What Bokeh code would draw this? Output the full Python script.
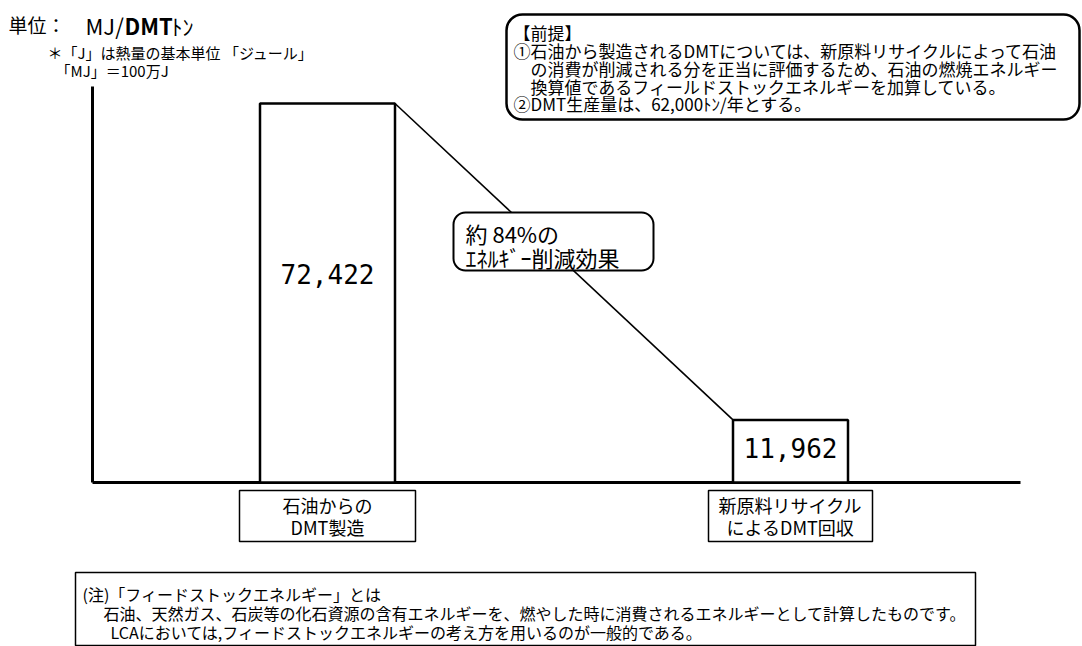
from bokeh.plotting import figure
from bokeh.models import Range1d, Label, BoxAnnotation
from bokeh.embed import file_html
from bokeh.resources import INLINE
from bokeh.core.properties import value

# ---------------- data ----------------
categories = ["石油からのDMT製造", "新原料リサイクルによるDMT回収"]
category_line1 = ["石油からの", "新原料リサイクル"]
category_line2 = ["DMT製造", "によるDMT回収"]
energy_mj_per_t = [72422, 11962]
value_labels = ["72,422", "11,962"]
reduction_lines = ["約 84%の", "ｴﾈﾙｷﾞｰ削減効果"]
unit_parts = ["単位：", "MJ/", "DMT", "ﾄﾝ"]
unit_notes = ["＊「J」は熱量の基本単位 「ジュール」", "「MJ」＝100万J"]
premise_lines = [
    "【前提】",
    "①石油から製造されるDMTについては、新原料リサイクルによって石油",
    "の消費が削減される分を正当に評価するため、石油の燃焼エネルギー",
    "換算値であるフィールドストックエネルギーを加算している。",
    "②DMT生産量は、62,000ﾄﾝ/年とする。",
]
note_lines = [
    "(注)「フィードストックエネルギー」とは",
    "石油、天然ガス、石炭等の化石資源の含有エネルギーを、燃やした時に消費されるエネルギーとして計算したものです。",
    "LCAにおいては,フィードストックエネルギーの考え方を用いるのが一般的である。",
]

# ---------------- layout ----------------
W, H = 1082, 646
JP = "Noto Sans CJK JP"


def Y(py):
    return H - py


BASE_PX, TOP_PX = 482, 103
FIRST_CENTER_PX, UNIT_PX = 327, 463
k = (BASE_PX - TOP_PX) / max(energy_mj_per_t)
idx = list(range(len(categories)))
bar_w = [135 / UNIT_PX, 115 / UNIT_PX]
box_half = [88 / UNIT_PX, 82 / UNIT_PX]

p = figure(
    width=W, height=H,
    x_range=Range1d(-FIRST_CENTER_PX / UNIT_PX, (W - FIRST_CENTER_PX) / UNIT_PX),
    y_range=Range1d(-(H - BASE_PX) / k, BASE_PX / k),
    x_axis_type=None, y_axis_type=None,
    output_backend="svg", toolbar_location=None, min_border=0,
)
p.outline_line_color = None
p.background_fill_color = "white"
p.border_fill_color = "white"
p.extra_x_ranges = {"px": Range1d(0, W)}
p.extra_y_ranges = {"px": Range1d(0, H)}

# axes lines
p.segment(x0=[92], y0=[Y(86)], x1=[92], y1=[Y(BASE_PX)], line_width=3, line_color="black",
          x_range_name="px", y_range_name="px")
p.segment(x0=[92], y0=[0], x1=[1020], y1=[0], line_width=3, line_color="black", x_range_name="px")

# bars
p.vbar(x=idx, top=energy_mj_per_t, bottom=0, width=bar_w, fill_color="white",
       line_color="black", line_width=2.5)

# connector line
p.line(x=[idx[0] + bar_w[0] / 2, idx[1] - bar_w[1] / 2], y=energy_mj_per_t,
       line_color="black", line_width=1.6)

# value labels
p.text(x=idx, y=[v * 0.55 for v in energy_mj_per_t], text=value_labels,
       text_font=value("DejaVu Sans Mono"), text_font_size="26px",
       text_align="center", text_baseline="middle", text_color="black")

# callout box
p.add_layout(BoxAnnotation(left=453, right=653, top=Y(212), bottom=Y(270),
                           x_range_name="px", y_range_name="px",
                           fill_color="white", fill_alpha=1, line_color="black",
                           line_alpha=1, line_width=2, border_radius=12))
for i, t in enumerate(reduction_lines):
    p.add_layout(Label(x=465, y=Y(232 + i * 24), text=t, x_range_name="px", y_range_name="px",
                       text_font=JP, text_font_size="22px", text_baseline="middle",
                       text_color="black"))

# category label boxes + texts
for i in idx:
    p.add_layout(BoxAnnotation(left=i - box_half[i], right=i + box_half[i], top=Y(490), bottom=Y(541),
                               y_range_name="px", fill_color="white", fill_alpha=1,
                               line_color="black", line_alpha=1, line_width=1.5))
    for t, y in ((category_line1[i], 504), (category_line2[i], 526)):
        p.add_layout(Label(x=i, y=Y(y), text=t, y_range_name="px",
                           text_font=JP, text_font_size="18px", text_align="center",
                           text_baseline="middle", text_color="black"))

# unit title
unit_x = [8, 85, 124, 171]
unit_size = ["19px", "22px", "22px", "22px"]
for t, x, s in zip(unit_parts, unit_x, unit_size):
    p.add_layout(Label(x=x, y=Y(24), text=t, x_range_name="px", y_range_name="px",
                       text_font=JP, text_font_size=s, text_baseline="middle",
                       text_font_style="bold" if t == "DMT" else "normal", text_color="black"))
for t, x, y in zip(unit_notes, [47, 55], [52, 70]):
    p.add_layout(Label(x=x, y=Y(y), text=t, x_range_name="px", y_range_name="px",
                       text_font=JP, text_font_size="15px", text_baseline="middle", text_color="black"))

# premise box
p.add_layout(BoxAnnotation(left=506, right=1079, top=Y(14), bottom=Y(119),
                           x_range_name="px", y_range_name="px",
                           fill_color="white", fill_alpha=1, line_color="black",
                           line_alpha=1, line_width=2.5, border_radius=16))
for t, x, y in zip(premise_lines, [513, 513, 530, 530, 513], [32, 50, 68, 86, 103]):
    p.add_layout(Label(x=x, y=Y(y), text=t, x_range_name="px", y_range_name="px",
                       text_font=JP, text_font_size="17px", text_baseline="middle", text_color="black"))

# note box
p.add_layout(BoxAnnotation(left=75, right=975, top=Y(572), bottom=Y(645),
                           x_range_name="px", y_range_name="px",
                           fill_color="white", fill_alpha=1, line_color="black",
                           line_alpha=1, line_width=1.5))
for t, x, y in zip(note_lines, [82, 103, 110], [593, 612, 631]):
    p.add_layout(Label(x=x, y=Y(y), text=t, x_range_name="px", y_range_name="px",
                       text_font=JP, text_font_size="16px", text_baseline="middle", text_color="black"))

open("out.html", "w").write(file_html(p, INLINE))
